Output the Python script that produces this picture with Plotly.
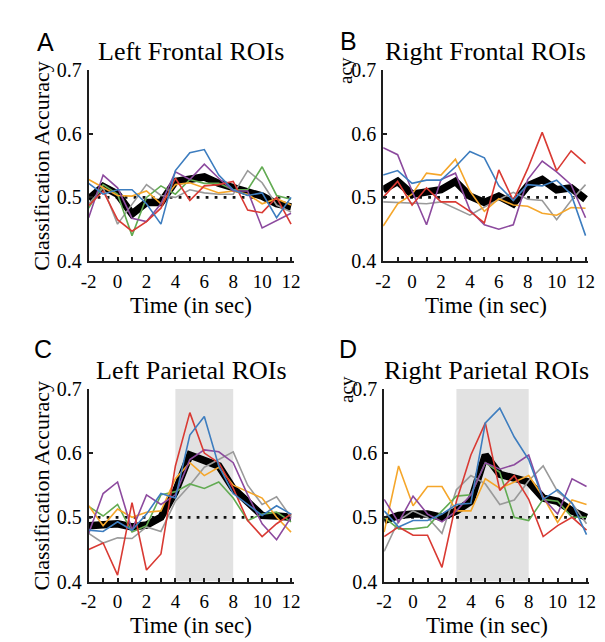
import plotly.graph_objects as go

# ---------------- data ----------------
time = list(range(-2, 13))
x_tick_vals = list(range(-2, 13))
x_tick_text = ["-2", "", "0", "", "2", "", "4", "", "6", "", "8", "", "10", "", "12"]
y_tick_vals = [0.4, 0.5, 0.6, 0.7]
y_tick_text = ["0.4", "0.5", "0.6", "0.7"]
chance_level = 0.5

panel_titles = ["Left Frontal ROIs", "Right Frontal ROIs", "Left Parietal ROIs", "Right Parietal ROIs"]
panel_letters = ["A", "B", "C", "D"]
shade_C = [4, 8]
shade_D = [3, 8]

# Panel A (Left Frontal)
A_mean   = [0.497, 0.517, 0.505, 0.474, 0.492, 0.492, 0.525, 0.528, 0.532, 0.522, 0.515, 0.510, 0.502, 0.490, 0.485]
A_blue   = [0.522, 0.505, 0.512, 0.512, 0.490, 0.458, 0.542, 0.570, 0.575, 0.535, 0.512, 0.503, 0.507, 0.468, 0.500]
A_red    = [0.487, 0.510, 0.465, 0.447, 0.462, 0.483, 0.530, 0.495, 0.518, 0.520, 0.525, 0.480, 0.476, 0.500, 0.458]
A_purple = [0.468, 0.535, 0.515, 0.467, 0.462, 0.490, 0.540, 0.528, 0.552, 0.530, 0.510, 0.510, 0.452, 0.463, 0.475]
A_green  = [0.483, 0.520, 0.505, 0.440, 0.500, 0.518, 0.505, 0.528, 0.522, 0.522, 0.512, 0.512, 0.548, 0.503, 0.497]
A_gray   = [0.490, 0.515, 0.458, 0.490, 0.520, 0.503, 0.500, 0.512, 0.507, 0.505, 0.505, 0.542, 0.523, 0.488, 0.477]
A_orange = [0.528, 0.515, 0.503, 0.502, 0.510, 0.490, 0.520, 0.523, 0.515, 0.507, 0.510, 0.505, 0.490, 0.498, 0.488]

# Panel B (Right Frontal)
B_mean   = [0.512, 0.525, 0.505, 0.508, 0.512, 0.525, 0.502, 0.492, 0.502, 0.490, 0.518, 0.528, 0.512, 0.515, 0.497]
B_blue   = [0.535, 0.542, 0.522, 0.527, 0.527, 0.548, 0.572, 0.562, 0.518, 0.495, 0.520, 0.518, 0.527, 0.505, 0.440]
B_red    = [0.500, 0.525, 0.488, 0.515, 0.493, 0.493, 0.478, 0.460, 0.543, 0.495, 0.545, 0.602, 0.542, 0.573, 0.553]
B_purple = [0.578, 0.567, 0.510, 0.457, 0.528, 0.538, 0.480, 0.457, 0.450, 0.457, 0.528, 0.557, 0.540, 0.520, 0.468]
B_gray   = [0.493, 0.492, 0.492, 0.490, 0.493, 0.483, 0.472, 0.485, 0.497, 0.508, 0.497, 0.495, 0.465, 0.495, 0.520]
B_orange = [0.455, 0.490, 0.505, 0.538, 0.535, 0.560, 0.510, 0.478, 0.498, 0.488, 0.486, 0.475, 0.472, 0.484, 0.483]

# Panel C (Left Parietal)
C_mean   = [0.487, 0.488, 0.490, 0.485, 0.488, 0.500, 0.540, 0.597, 0.590, 0.580, 0.545, 0.522, 0.503, 0.502, 0.500]
C_blue   = [0.480, 0.478, 0.493, 0.480, 0.505, 0.537, 0.530, 0.628, 0.657, 0.580, 0.537, 0.520, 0.503, 0.518, 0.505]
C_red    = [0.450, 0.460, 0.410, 0.523, 0.418, 0.443, 0.580, 0.663, 0.600, 0.585, 0.545, 0.495, 0.470, 0.490, 0.505]
C_purple = [0.475, 0.537, 0.555, 0.480, 0.535, 0.520, 0.535, 0.590, 0.605, 0.602, 0.585, 0.535, 0.490, 0.465, 0.500]
C_green  = [0.517, 0.502, 0.520, 0.477, 0.487, 0.535, 0.540, 0.552, 0.545, 0.555, 0.530, 0.495, 0.505, 0.508, 0.493]
C_gray   = [0.475, 0.460, 0.468, 0.467, 0.485, 0.478, 0.525, 0.550, 0.578, 0.590, 0.602, 0.550, 0.520, 0.532, 0.500]
C_orange = [0.518, 0.487, 0.513, 0.500, 0.508, 0.510, 0.560, 0.585, 0.565, 0.578, 0.550, 0.540, 0.530, 0.500, 0.477]

# Panel D (Right Parietal)
D_mean   = [0.495, 0.503, 0.505, 0.505, 0.500, 0.510, 0.525, 0.597, 0.567, 0.560, 0.555, 0.530, 0.525, 0.510, 0.500]
D_blue   = [0.510, 0.485, 0.495, 0.495, 0.505, 0.520, 0.522, 0.647, 0.670, 0.625, 0.590, 0.528, 0.543, 0.522, 0.473]
D_red    = [0.470, 0.485, 0.472, 0.472, 0.422, 0.525, 0.597, 0.647, 0.542, 0.565, 0.528, 0.470, 0.487, 0.500, 0.480]
D_purple = [0.528, 0.492, 0.533, 0.505, 0.493, 0.510, 0.535, 0.585, 0.575, 0.582, 0.597, 0.530, 0.505, 0.560, 0.548]
D_green  = [0.500, 0.482, 0.482, 0.485, 0.510, 0.533, 0.535, 0.585, 0.570, 0.500, 0.495, 0.528, 0.525, 0.500, 0.500]
D_gray   = [0.447, 0.495, 0.510, 0.500, 0.475, 0.543, 0.565, 0.552, 0.520, 0.527, 0.557, 0.580, 0.540, 0.522, 0.490]
D_orange = [0.477, 0.580, 0.518, 0.548, 0.548, 0.510, 0.510, 0.560, 0.545, 0.555, 0.565, 0.532, 0.492, 0.527, 0.520]

# ---------------- styling ----------------
W, H = 605, 642
COLORS = {"blue": "#3d7dbf", "red": "#d93a33", "purple": "#8c4a9e",
          "green": "#62ab52", "gray": "#9a9a9a", "orange": "#f5a62a"}
SERIF = "Liberation Serif, Times New Roman, serif"
SANS = "Liberation Sans, Arial, sans-serif"
AXIS_COLOR = "#1e1e1e"

# plot areas in pixels: (left, right, top, bottom)
boxes = [(74.5, 285.0, 52.7, 250.7),
         (376.5, 587.0, 52.7, 250.7),
         (74.5, 285.0, 383.0, 582.5),
         (377.5, 588.0, 383.0, 582.5)]

panels = [
    [("gray", A_gray), ("green", A_green), ("orange", A_orange), ("purple", A_purple), ("red", A_red), ("blue", A_blue)],
    [("gray", B_gray), ("orange", B_orange), ("purple", B_purple), ("red", B_red), ("blue", B_blue)],
    [("gray", C_gray), ("green", C_green), ("orange", C_orange), ("purple", C_purple), ("red", C_red), ("blue", C_blue)],
    [("gray", D_gray), ("green", D_green), ("orange", D_orange), ("purple", D_purple), ("red", D_red), ("blue", D_blue)],
]
means = [A_mean, B_mean, C_mean, D_mean]
shades = [None, None, shade_C, shade_D]

fig = go.Figure()
layout = dict(width=W, height=H, margin=dict(l=0, r=0, t=0, b=0),
              paper_bgcolor="white", plot_bgcolor="rgba(0,0,0,0)", showlegend=False)
annotations = []
shapes = []

for i in range(4):
    n = "" if i == 0 else str(i + 1)
    xa, ya = "x" + n, "y" + n
    l, r, t, b = boxes[i]
    layout["xaxis" + n] = dict(
        domain=[l / W, r / W], range=[-2, 12.2], anchor=ya,
        showline=True, linecolor=AXIS_COLOR, linewidth=2,
        ticks="inside", ticklen=4, tickwidth=1.5, tickcolor=AXIS_COLOR,
        tickvals=x_tick_vals, ticktext=x_tick_text, ticklabelstandoff=2,
        tickfont=dict(family=SERIF, size=19, color="black"),
        showgrid=False, zeroline=False, fixedrange=True)
    layout["yaxis" + n] = dict(
        domain=[1 - b / H, 1 - t / H], range=[0.4, 0.7], anchor=xa,
        showline=True, linecolor=AXIS_COLOR, linewidth=2,
        ticks="inside", ticklen=4, tickwidth=1.5, tickcolor=AXIS_COLOR,
        tickvals=y_tick_vals, ticktext=y_tick_text, ticklabelstandoff=1,
        tickfont=dict(family=SERIF, size=20, color="black"),
        showgrid=False, zeroline=False, fixedrange=True)

    if shades[i] is not None:
        shapes.append(dict(type="rect", xref=xa, yref=ya, x0=shades[i][0], x1=shades[i][1],
                           y0=0.4, y1=0.7, fillcolor="#e2e2e2", line=dict(width=0), layer="below"))

    # chance level dotted line
    fig.add_trace(go.Scatter(x=[time[0], time[-1]], y=[chance_level, chance_level], xaxis=xa, yaxis=ya,
                             mode="lines", line=dict(color="#111111", width=2.8, dash="2.8px,6.2px"),
                             hoverinfo="skip"))
    # mean
    fig.add_trace(go.Scatter(x=time, y=means[i], xaxis=xa, yaxis=ya, mode="lines",
                             line=dict(color="black", width=7.5), hoverinfo="skip"))
    for cname, vals in panels[i]:
        fig.add_trace(go.Scatter(x=time, y=vals, xaxis=xa, yaxis=ya, mode="lines",
                                 line=dict(color=COLORS[cname], width=1.6), hoverinfo="skip"))

    cx = (l + r) / 2
    # title
    annotations.append(dict(text=panel_titles[i], xref="paper", yref="paper", x=cx / W, y=1 - (t - 19) / H,
                            xanchor="center", yanchor="middle", showarrow=False,
                            font=dict(family=SERIF, size=26, color="black")))
    # x axis title
    annotations.append(dict(text="Time (in sec)", xref="paper", yref="paper", x=cx / W, y=1 - (b + 46) / H,
                            xanchor="center", yanchor="middle", showarrow=False,
                            font=dict(family=SERIF, size=23, color="black")))
    # y axis title (left panels fully shown, right panels only a fragment)
    if i in (0, 2):
        annotations.append(dict(text="Classification Accuracy", xref="paper", yref="paper",
                                x=26 / W, y=1 - ((t + b) / 2) / H, xanchor="center", yanchor="middle",
                                textangle=-90, showarrow=False,
                                font=dict(family=SERIF, size=22, color="black")))
    else:
        annotations.append(dict(text="acy", xref="paper", yref="paper",
                                x=(l - 38) / W, y=1 - (t + 1) / H, xanchor="center", yanchor="middle",
                                textangle=-90, showarrow=False,
                                font=dict(family=SERIF, size=19, color="black")))

letter_pos = [(30, 24), (341, 23), (28, 342), (340, 342)]
for (lx, ly), letter in zip(letter_pos, panel_letters):
    annotations.append(dict(text=letter, xref="paper", yref="paper", x=lx / W, y=1 - ly / H,
                            xanchor="center", yanchor="middle", showarrow=False,
                            font=dict(family=SANS, size=25, color="black")))

layout["annotations"] = annotations
layout["shapes"] = shapes
fig.update_layout(**layout)
fig.write_html("out.html")
